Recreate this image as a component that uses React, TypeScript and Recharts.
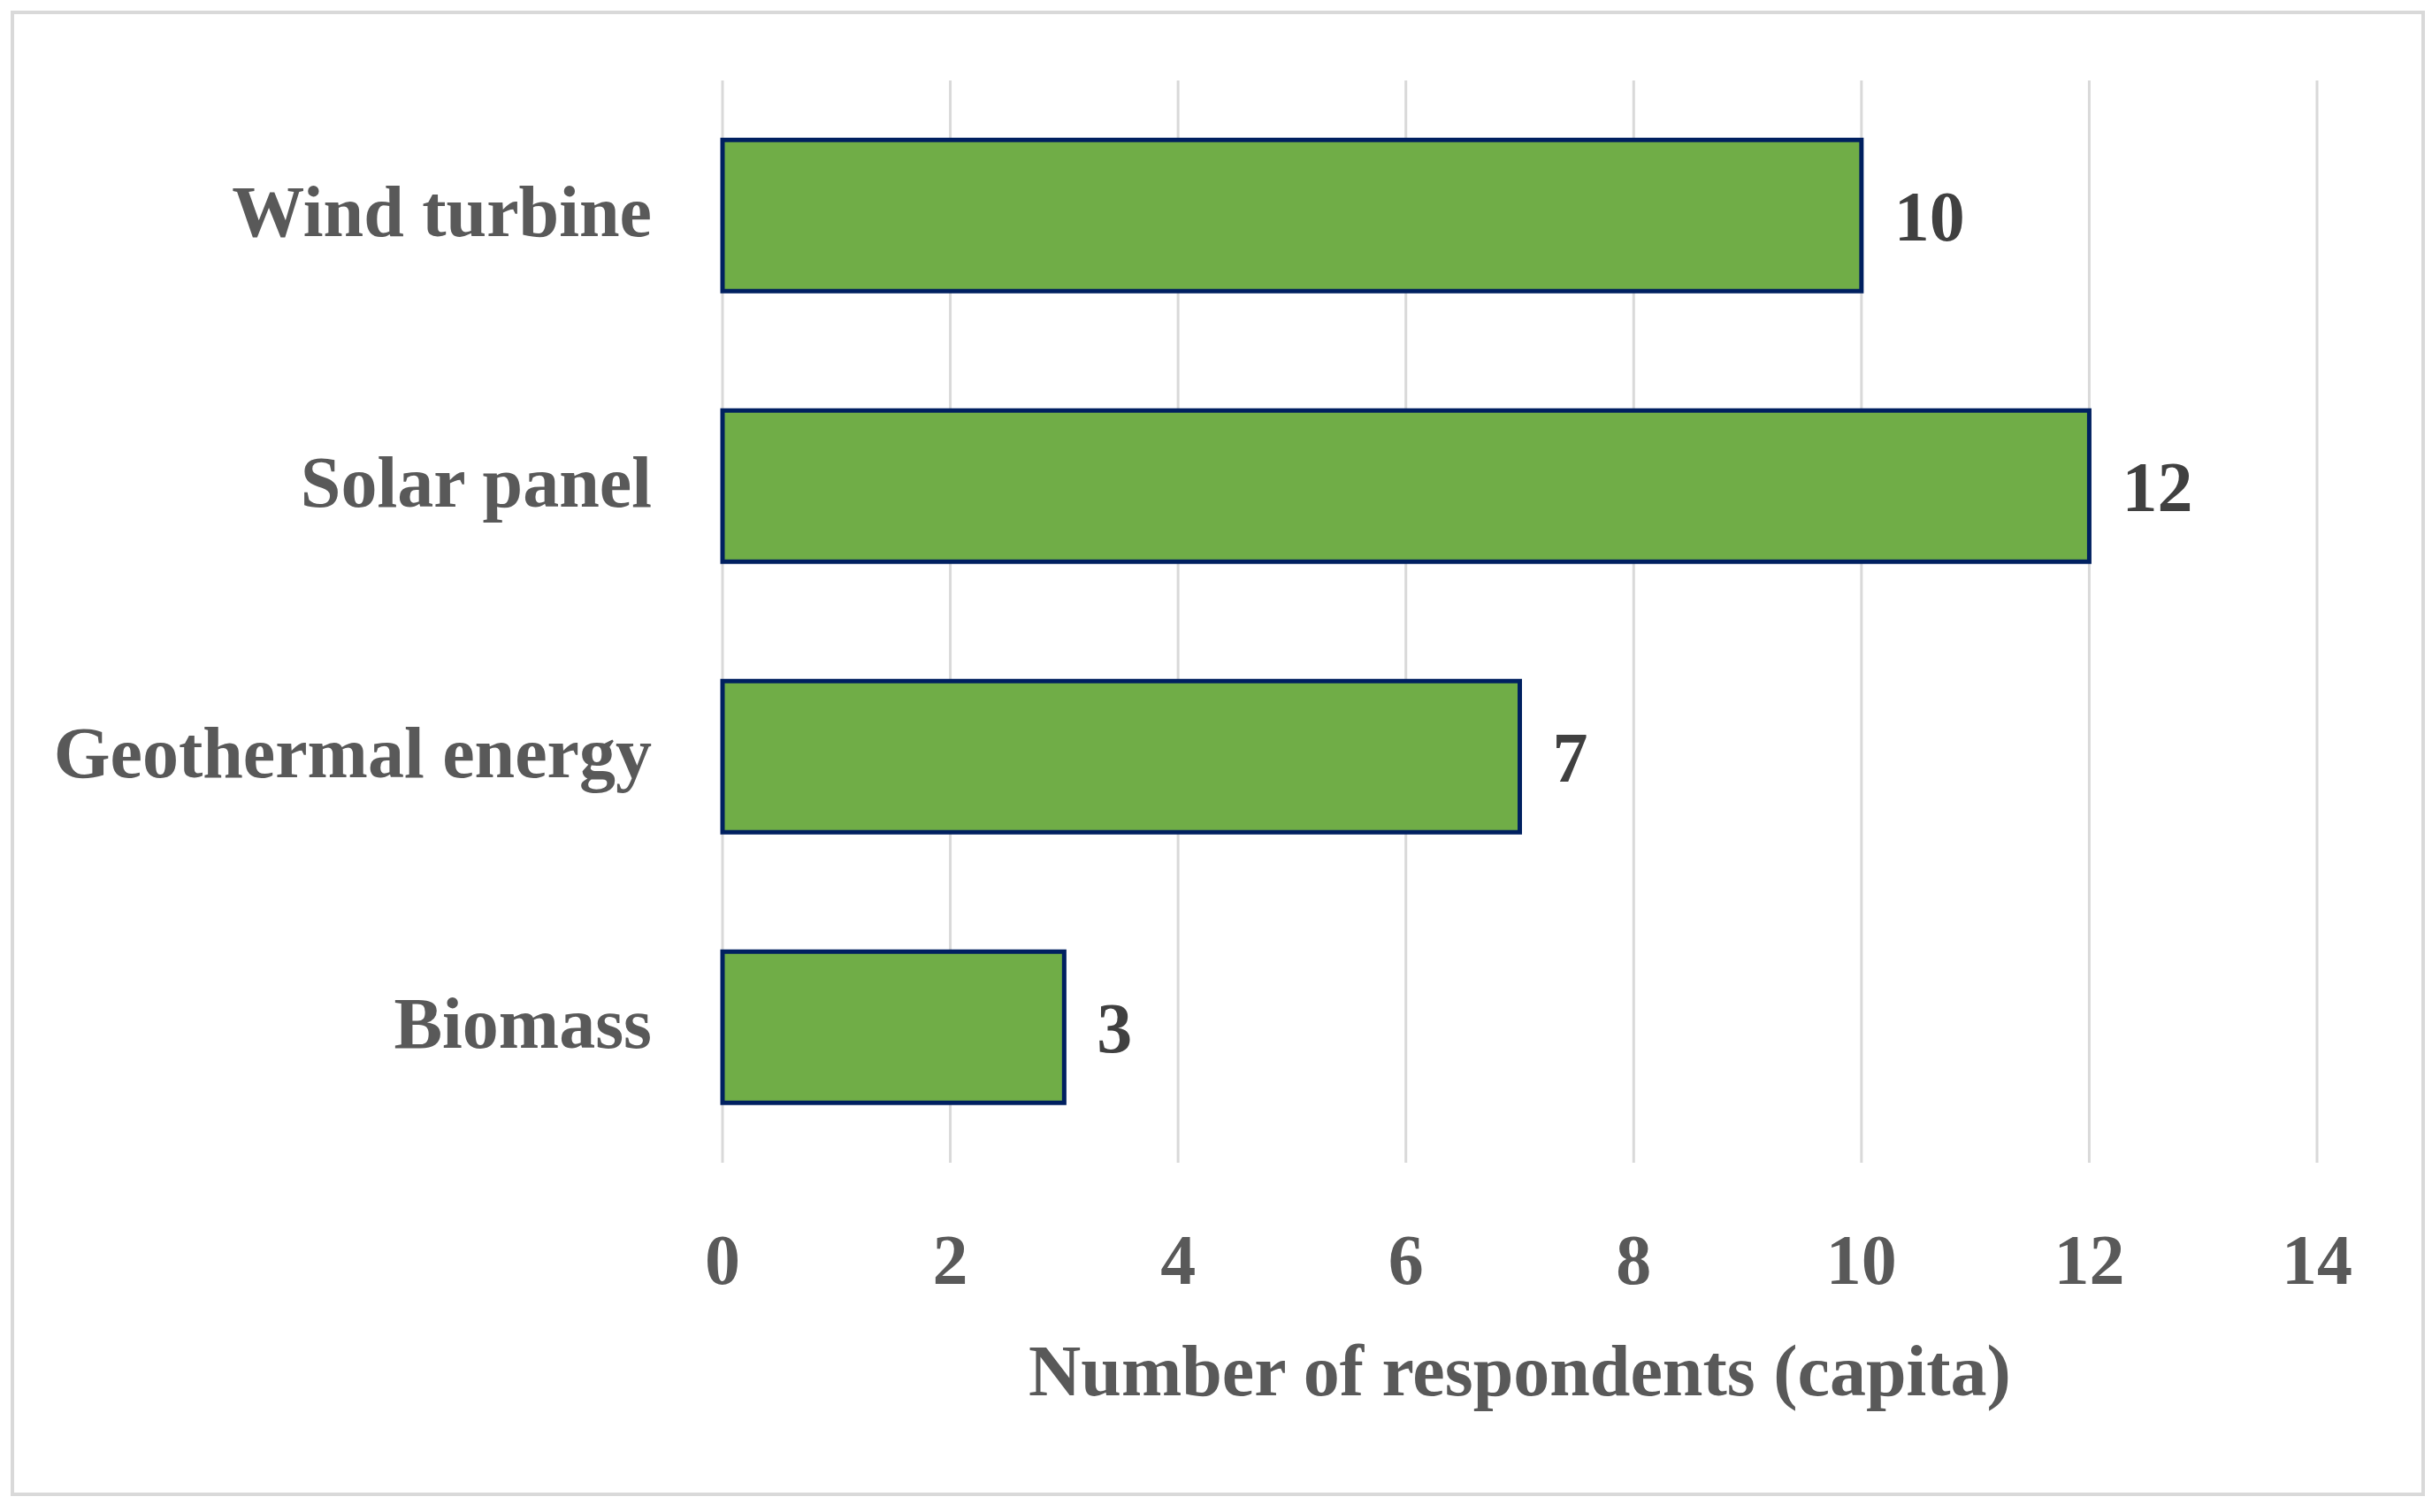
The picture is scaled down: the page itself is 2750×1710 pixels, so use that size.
import { BarChart, Bar, XAxis, YAxis, CartesianGrid, LabelList, Label } from 'recharts'

const categories = ['Wind turbine', 'Solar panel', 'Geothermal energy', 'Biomass']
const respondents = [10, 12, 7, 3]
const xTicks = [0, 2, 4, 6, 8, 10, 12, 14]

const data = categories.map((name, i) => ({ name, value: respondents[i] }))

const font = '"Liberation Serif", "DejaVu Serif", serif'

export default function App() {
  return (
    <div style={{ position: 'absolute', left: 0, top: 0, width: 2750, height: 1710, background: '#fff' }}>
      <div
        style={{
          position: 'absolute',
          left: 12,
          top: 12,
          width: 2722,
          height: 1672,
          border: '4px solid #d9d9d9',
        }}
      />
      <BarChart
        width={2750}
        height={1710}
        data={data}
        layout="vertical"
        barCategoryGap="22%"
        margin={{ top: 91, right: 130, bottom: 0, left: 0 }}
        style={{ position: 'absolute', left: 0, top: 0 }}
      >
        <CartesianGrid horizontal={false} stroke="#d9d9d9" strokeWidth={3} />
        <XAxis
          type="number"
          domain={[0, 14]}
          ticks={xTicks}
          axisLine={false}
          tickLine={false}
          tickSize={0}
          tickMargin={80}
          height={395}
          tick={{ fontFamily: font, fontSize: 80, fontWeight: 'bold', fill: '#595959' }}
        >
          <Label
            value="Number of respondents (capita)"
            position="insideBottom"
            offset={132}
            style={{ fontFamily: font, fontSize: 82, fontWeight: 'bold', fill: '#595959' }}
          />
        </XAxis>
        <YAxis
          type="category"
          dataKey="name"
          width={817}
          axisLine={false}
          tickLine={false}
          tickSize={0}
          tickMargin={80}
          dy={-6}
          tick={{ fontFamily: font, fontSize: 82, fontWeight: 'bold', fill: '#595959' }}
        />
        <Bar dataKey="value" fill="#70ad47" stroke="#002060" strokeWidth={5} isAnimationActive={false}>
          <LabelList
            dataKey="value"
            position="right"
            offset={37}
            style={{ fontFamily: font, fontSize: 80, fontWeight: 'bold', fill: '#404040' }}
          />
        </Bar>
      </BarChart>
    </div>
  )
}
